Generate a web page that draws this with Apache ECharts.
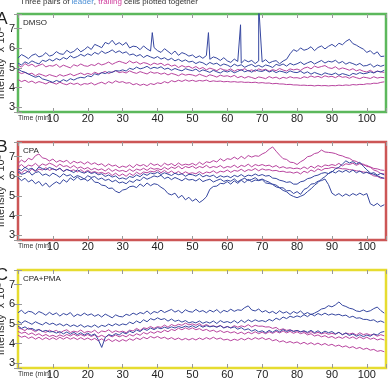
<!DOCTYPE html>
<html>
<head>
<meta charset="utf-8">
<script src="https://cdn.jsdelivr.net/npm/echarts@6/dist/echarts.min.js"></script>
<style>
  html, body { margin: 0; padding: 0; background: #fff; }
  #chart { width: 389px; height: 387px; }
</style>
</head>
<body>
<div id="chart"></div>
<script>
// sampling step of the traces (min)
var step = 1;
var xTicks = [10, 20, 30, 40, 50, 60, 70, 80, 90, 100];
var yTicks = [3, 4, 5, 6, 7];

// ---- A: DMSO ----
var dmsoLead1 = [5.5,5.68,5.59,5.47,5.64,5.71,5.56,5.62,5.78,5.6,
  5.66,5.83,5.72,5.69,5.9,5.77,5.84,6.0,5.82,5.93,
  6.08,5.94,6.2,6.12,6.03,6.3,6.22,6.41,6.18,6.29,
  6.16,6.3,6.02,6.11,6.08,5.93,6.12,5.97,5.86,6.04,
  5.88,5.79,5.98,5.84,5.7,5.86,5.64,5.78,5.71,5.6,
  5.66,5.52,5.61,5.49,5.63,5.44,5.56,5.5,5.38,5.52,
  5.36,5.28,5.45,5.33,5.24,5.41,5.31,5.38,5.22,5.36,
  5.3,5.42,5.25,5.33,5.37,5.21,5.35,5.44,5.72,5.93,
  5.84,6.02,5.9,5.96,6.08,5.88,6.04,6.12,5.97,6.1,
  6.2,6.08,6.26,6.18,6.35,6.46,6.24,6.16,6.05,5.96,
  5.79,5.88,5.7,5.82,5.58,5.6];
var dmsoSpikes = [[38.5, 6.8], [54.6, 6.8], [63.8, 7.2], [69.0, 8.2]];
var dmsoLead2 = [5.24,5.15,5.31,5.22,5.36,5.27,5.2,5.39,5.33,5.44,
  5.35,5.48,5.4,5.53,5.45,5.62,5.51,5.58,5.69,5.6,
  5.72,5.64,5.79,5.7,5.86,5.74,5.81,5.92,5.78,5.87,
  5.75,5.82,5.66,5.71,5.6,5.68,5.53,5.64,5.56,5.49,
  5.58,5.45,5.52,5.4,5.49,5.36,5.44,5.33,5.41,5.3,
  5.34,5.22,5.31,5.26,5.15,5.28,5.19,5.24,5.11,5.2,
  5.14,5.05,5.19,5.1,5.16,5.03,5.12,5.18,5.06,5.13,
  5.04,5.15,5.1,5.02,5.18,5.12,5.2,5.09,5.23,5.15,
  5.21,5.3,5.17,5.26,5.33,5.2,5.29,5.38,5.25,5.34,
  5.3,5.39,5.24,5.33,5.19,5.28,5.22,5.14,5.23,5.1,
  5.12,5.2,5.04,5.15,5.08,5.14];
var dmsoLead3 = [4.94,4.83,4.78,4.69,4.6,4.52,4.58,4.44,4.39,4.33,
  4.26,4.36,4.29,4.4,4.32,4.45,4.38,4.47,4.52,4.49,
  4.6,4.55,4.7,4.64,4.76,4.71,4.8,4.77,4.86,4.84,
  4.9,4.84,4.98,4.92,5.04,4.95,5.0,5.08,4.96,5.03,
  4.98,5.06,4.93,4.99,4.88,4.97,4.9,4.85,4.96,4.9,
  4.86,4.94,4.81,4.9,4.84,4.77,4.88,4.8,4.74,4.85,
  4.79,4.86,4.75,4.82,4.91,4.8,4.87,4.78,4.9,4.84,
  4.82,4.9,4.79,4.86,4.76,4.84,4.8,4.74,4.85,4.78,
  4.76,4.83,4.72,4.8,4.68,4.77,4.7,4.64,4.75,4.69,
  4.66,4.74,4.63,4.71,4.66,4.6,4.72,4.67,4.76,4.7,
  4.73,4.8,4.74,4.83,4.79,4.88];
var dmsoTrail1 = [5.14,5.04,5.22,5.11,5.19,5.06,5.13,5.2,5.05,5.12,
  5.09,5.18,5.03,5.14,5.07,5.0,5.16,5.09,5.2,5.11,
  5.08,5.17,5.12,5.24,5.15,5.21,5.3,5.18,5.27,5.34,
  5.28,5.22,5.36,5.25,5.31,5.19,5.27,5.23,5.14,5.25,
  5.18,5.24,5.12,5.2,5.09,5.15,5.02,5.12,5.04,5.08,
  4.98,5.07,4.95,5.02,4.9,4.99,4.93,4.86,4.97,4.9,
  4.87,4.95,4.83,4.92,4.88,4.96,4.84,4.9,4.82,4.95,
  4.88,4.93,4.83,4.91,4.86,4.97,4.89,4.84,4.95,4.9,
  4.94,4.87,4.99,5.04,4.95,5.09,5.02,5.07,5.12,5.01,
  4.97,5.06,4.93,5.0,4.95,4.88,4.96,4.85,4.91,4.83,
  4.79,4.88,4.76,4.84,4.8,4.77];
var dmsoTrail2 = [4.8,4.71,4.77,4.68,4.73,4.6,4.7,4.64,4.57,4.66,
  4.6,4.55,4.66,4.58,4.63,4.7,4.6,4.67,4.74,4.65,
  4.72,4.66,4.78,4.7,4.75,4.82,4.71,4.79,4.86,4.76,
  4.8,4.74,4.85,4.77,4.72,4.81,4.75,4.69,4.8,4.73,
  4.76,4.68,4.74,4.64,4.72,4.67,4.6,4.7,4.63,4.67,
  4.64,4.58,4.68,4.61,4.55,4.65,4.6,4.53,4.63,4.57,
  4.6,4.54,4.62,4.5,4.57,4.48,4.56,4.51,4.45,4.54,
  4.5,4.45,4.56,4.48,4.53,4.44,4.52,4.47,4.55,4.49,
  4.5,4.46,4.55,4.5,4.59,4.52,4.57,4.5,4.6,4.54,
  4.57,4.5,4.6,4.52,4.55,4.47,4.56,4.5,4.45,4.53,
  4.5,4.46,4.55,4.48,4.52,4.5];
var dmsoTrail3 = [4.41,4.3,4.37,4.26,4.33,4.22,4.3,4.25,4.18,4.28,
  4.24,4.17,4.27,4.19,4.14,4.23,4.16,4.22,4.12,4.2,
  4.17,4.24,4.13,4.21,4.27,4.18,4.3,4.22,4.34,4.26,
  4.3,4.22,4.25,4.14,4.2,4.11,4.17,4.1,4.2,4.15,
  4.24,4.2,4.3,4.23,4.35,4.29,4.37,4.31,4.39,4.32,
  4.37,4.31,4.36,4.33,4.38,4.3,4.34,4.31,4.33,4.29,
  4.31,4.28,4.3,4.27,4.29,4.26,4.27,4.25,4.27,4.23,
  4.25,4.22,4.23,4.19,4.21,4.18,4.18,4.15,4.16,4.13,
  4.13,4.11,4.12,4.1,4.11,4.08,4.11,4.09,4.1,4.08,
  4.1,4.09,4.12,4.1,4.13,4.11,4.15,4.13,4.16,4.15,
  4.19,4.18,4.22,4.21,4.26,4.29];

// ---- B: CPA ----
var cpaLead1 = [5.94,5.78,5.9,5.71,5.82,5.62,5.74,5.51,5.66,5.45,
  5.6,5.72,5.61,5.83,5.7,5.92,5.79,5.97,5.82,5.88,
  5.76,5.9,5.7,5.68,5.55,5.52,5.38,5.4,5.24,5.16,
  5.3,5.34,5.47,5.5,5.42,5.61,5.48,5.66,5.52,5.62,
  5.58,5.44,5.33,5.12,5.05,5.14,4.9,5.03,4.8,4.93,
  4.73,4.85,4.66,4.78,4.95,5.34,5.48,5.5,5.64,5.62,
  5.73,5.6,5.77,5.64,5.8,5.67,5.85,5.72,5.81,5.78,
  5.83,5.66,5.63,5.6,5.55,5.42,5.41,5.26,5.27,5.12,
  5.22,5.08,5.33,5.41,5.6,5.63,5.75,5.78,5.86,5.58,
  5.14,5.02,5.12,4.98,5.1,5.0,5.12,5.03,5.14,5.04,
  5.12,4.6,4.5,4.62,4.46,4.55];
var cpaLead2 = [6.22,6.1,6.15,6.28,6.06,6.19,6.24,6.05,6.12,6.01,
  6.16,6.07,5.95,6.13,6.02,6.08,5.93,6.04,5.97,5.86,
  6.03,5.94,5.99,5.84,5.91,5.79,5.85,5.72,5.8,5.66,
  5.71,5.62,5.77,5.69,5.83,5.78,5.96,5.85,5.93,6.02,
  5.97,6.05,5.88,5.96,5.83,5.94,5.86,5.77,5.9,5.81,
  5.84,5.76,5.88,5.73,5.8,5.85,5.71,5.79,5.86,5.74,
  5.8,5.75,5.87,5.72,5.83,5.9,5.78,5.84,5.93,5.8,
  5.86,5.77,5.7,5.58,5.46,5.41,5.28,5.21,5.06,4.97,
  4.91,4.98,5.06,5.22,5.36,5.54,5.68,5.86,5.98,6.14,
  6.22,6.38,6.46,6.62,6.79,6.68,6.75,6.63,6.72,6.51,
  6.33,6.17,6.1,6.03,5.95,5.9];
var cpaLead3 = [6.37,6.3,6.46,6.35,6.41,6.27,6.48,6.39,6.33,6.45,
  6.38,6.31,6.42,6.24,6.35,6.28,6.19,6.33,6.22,6.16,
  6.25,6.14,6.2,6.08,6.13,5.99,6.07,5.96,6.02,5.87,
  5.92,5.85,5.99,5.94,6.07,5.98,6.13,6.05,6.17,6.12,
  6.21,6.09,6.18,6.11,6.04,6.16,6.08,6.13,6.0,6.1,
  6.08,6.01,6.12,5.97,6.05,5.99,6.06,5.92,6.03,5.96,
  6.01,5.93,6.05,5.98,6.09,5.97,6.06,6.02,6.12,6.03,
  6.09,6.01,6.04,5.91,5.89,5.8,5.76,5.69,5.72,5.6,
  5.6,5.72,5.76,5.88,5.92,6.02,6.06,6.15,6.19,6.14,
  6.26,6.17,6.29,6.21,6.31,6.2,6.32,6.18,6.27,6.15,
  6.21,6.13,6.19,6.06,6.15,6.07];
var cpaTrail1 = [6.66,6.83,6.72,6.92,6.84,7.05,7.14,6.94,6.9,6.78,
  6.88,6.72,6.81,6.73,6.82,6.64,6.77,6.68,6.74,6.62,
  6.74,6.61,6.69,6.58,6.64,6.5,6.63,6.52,6.57,6.44,
  6.52,6.46,6.58,6.44,6.61,6.53,6.6,6.49,6.67,6.56,
  6.62,6.5,6.67,6.57,6.65,6.53,6.68,6.56,6.62,6.58,
  6.66,6.56,6.72,6.6,6.74,6.7,6.8,6.73,6.9,6.78,
  6.9,6.86,6.98,6.87,7.02,6.9,7.06,6.98,7.05,7.02,
  7.14,7.22,7.38,7.5,7.28,7.08,6.9,6.86,6.72,6.7,
  6.6,6.74,6.84,7.0,7.04,7.16,7.2,7.34,7.24,7.22,
  7.2,7.16,7.08,7.04,6.96,6.92,6.8,6.76,6.64,6.62,
  6.5,6.48,6.4,6.38,6.32,6.3];
var cpaTrail2 = [6.47,6.6,6.44,6.57,6.52,6.66,6.5,6.63,6.56,6.67,
  6.6,6.48,6.62,6.5,6.54,6.43,6.55,6.41,6.48,6.37,
  6.45,6.33,6.41,6.32,6.38,6.27,6.4,6.25,6.35,6.26,
  6.3,6.23,6.36,6.25,6.37,6.31,6.41,6.3,6.43,6.36,
  6.4,6.33,6.46,6.35,6.47,6.4,6.52,6.38,6.5,6.44,
  6.52,6.4,6.5,6.44,6.56,6.43,6.5,6.45,6.55,6.42,
  6.5,6.46,6.57,6.44,6.56,6.5,6.62,6.48,6.6,6.54,
  6.6,6.53,6.57,6.47,6.55,6.43,6.49,6.41,6.44,6.39,
  6.42,6.37,6.48,6.38,6.52,6.42,6.55,6.47,6.58,6.54,
  6.6,6.55,6.66,6.53,6.64,6.6,6.67,6.56,6.65,6.58,
  6.56,6.46,6.32,6.26,6.14,6.12];
var cpaTrail3 = [6.3,6.16,6.33,6.2,6.38,6.24,6.37,6.32,6.44,6.3,
  6.38,6.32,6.4,6.26,6.35,6.28,6.33,6.22,6.34,6.2,
  6.31,6.19,6.24,6.16,6.2,6.12,6.19,6.04,6.16,6.02,
  6.12,6.0,6.15,6.04,6.21,6.1,6.22,6.18,6.26,6.22,
  6.32,6.18,6.3,6.16,6.27,6.14,6.25,6.12,6.23,6.14,
  6.18,6.13,6.24,6.12,6.22,6.18,6.28,6.16,6.26,6.22,
  6.32,6.2,6.3,6.26,6.36,6.24,6.34,6.3,6.4,6.28,
  6.38,6.32,6.34,6.28,6.3,6.24,6.26,6.2,6.22,6.16,
  6.22,6.12,6.26,6.18,6.32,6.24,6.38,6.3,6.4,6.4,
  6.46,6.42,6.42,6.38,6.38,6.34,6.32,6.28,6.26,6.22,
  6.2,6.12,6.02,6.0,5.9,5.9];

// ---- C: CPA+PMA ----
var pmaLead1 = [5.57,5.7,5.52,5.64,5.61,5.48,5.63,5.55,5.44,5.59,
  5.47,5.56,5.4,5.53,5.46,5.58,5.37,5.49,5.42,5.55,
  5.44,5.51,5.39,5.48,5.35,5.5,5.41,5.31,5.46,5.38,
  5.36,5.49,5.43,5.55,5.47,5.58,5.52,5.66,5.5,5.63,
  5.57,5.7,5.58,5.66,5.74,5.6,5.69,5.55,5.72,5.63,
  5.6,5.74,5.62,5.68,5.57,5.7,5.61,5.73,5.56,5.69,
  5.62,5.75,5.64,5.72,5.69,5.83,5.92,5.71,5.66,5.76,
  5.6,5.68,5.56,5.64,5.52,5.67,5.55,5.62,5.49,5.63,
  5.54,5.66,5.49,5.58,5.47,5.55,5.64,5.76,5.8,5.93,
  5.87,5.97,6.12,5.95,5.89,5.8,5.76,5.66,5.63,5.71,
  5.62,5.67,5.78,5.86,5.68,5.55];
var pmaLead2 = [5.13,5.03,5.16,5.07,4.98,5.11,5.02,4.95,5.08,4.97,
  5.04,4.93,5.01,4.9,4.99,4.87,4.95,4.86,4.96,4.83,
  4.91,4.84,4.95,4.82,4.93,4.87,4.99,4.9,5.01,4.92,
  5.0,4.95,5.09,5.01,5.15,5.05,5.21,5.11,5.27,5.2,
  5.31,5.22,5.27,5.14,5.25,5.13,5.19,5.09,5.17,5.05,
  5.11,5.05,5.15,5.03,5.11,5.04,5.15,5.02,5.17,5.07,
  5.12,5.05,5.17,5.04,5.19,5.07,5.21,5.11,5.21,5.13,
  5.17,5.11,5.23,5.15,5.29,5.21,5.35,5.27,5.39,5.33,
  5.41,5.35,5.47,5.37,5.51,5.41,5.53,5.45,5.55,5.45,
  5.51,5.45,5.49,5.41,5.45,5.33,5.39,5.29,5.31,5.23,
  5.23,5.17,5.21,5.09,5.15,5.07];
var pmaLead3 = [4.89,4.77,4.85,4.73,4.77,4.67,4.71,4.61,4.67,4.59,
  4.61,4.53,4.61,4.49,4.59,4.47,4.57,4.45,4.55,4.43,
  4.53,4.41,4.49,4.2,3.8,4.3,4.46,4.39,4.51,4.43,
  4.57,4.49,4.63,4.55,4.69,4.61,4.75,4.67,4.79,4.71,
  4.81,4.75,4.83,4.77,4.85,4.79,4.87,4.81,4.89,4.83,
  4.91,4.81,4.93,4.83,4.91,4.85,4.89,4.83,4.91,4.79,
  4.87,4.79,4.85,4.73,4.81,4.69,4.75,4.63,4.71,4.59,
  4.65,4.55,4.67,4.57,4.69,4.59,4.71,4.61,4.69,4.61,
  4.67,4.59,4.65,4.57,4.67,4.55,4.65,4.53,4.63,4.55,
  4.61,4.49,4.57,4.45,4.53,4.41,4.49,4.37,4.45,4.35,
  4.43,4.37,4.49,4.43,4.57,4.61];
var pmaTrail1 = [4.8,4.74,4.66,4.79,4.7,4.6,4.72,4.62,4.57,4.68,
  4.6,4.67,4.53,4.64,4.7,4.56,4.63,4.58,4.69,4.55,
  4.62,4.57,4.68,4.52,4.64,4.6,4.7,4.56,4.65,4.58,
  4.63,4.55,4.68,4.64,4.77,4.66,4.8,4.76,4.87,4.77,
  4.86,4.82,4.94,4.83,4.97,4.89,4.98,4.93,5.04,4.95,
  5.0,4.93,5.02,4.88,4.97,4.87,4.9,4.85,4.92,4.81,
  4.86,4.8,4.91,4.83,4.9,4.85,4.96,4.84,4.93,4.88,
  4.89,4.84,4.85,4.77,4.82,4.69,4.75,4.67,4.7,4.63,
  4.66,4.6,4.63,4.52,4.61,4.51,4.57,4.49,4.55,4.47,
  4.52,4.47,4.57,4.45,4.54,4.48,4.53,4.43,4.55,4.45,
  4.5,4.43,4.47,4.37,4.45,4.39];
var pmaTrail2 = [4.62,4.52,4.58,4.46,4.54,4.42,4.5,4.38,4.46,4.36,
  4.42,4.34,4.44,4.36,4.46,4.38,4.48,4.38,4.46,4.38,
  4.46,4.36,4.44,4.34,4.42,4.32,4.42,4.34,4.44,4.34,
  4.42,4.34,4.46,4.38,4.5,4.42,4.56,4.48,4.6,4.52,
  4.62,4.56,4.68,4.6,4.72,4.66,4.78,4.7,4.8,4.72,
  4.8,4.7,4.76,4.66,4.72,4.62,4.68,4.58,4.66,4.56,
  4.62,4.54,4.6,4.5,4.58,4.48,4.58,4.5,4.6,4.5,
  4.58,4.5,4.6,4.52,4.62,4.54,4.64,4.54,4.62,4.52,
  4.6,4.5,4.56,4.44,4.5,4.38,4.44,4.34,4.4,4.3,
  4.36,4.26,4.34,4.26,4.36,4.26,4.34,4.24,4.34,4.24,
  4.32,4.22,4.28,4.18,4.24,4.18];
var pmaTrail3 = [4.42,4.32,4.38,4.26,4.34,4.22,4.32,4.2,4.3,4.2,
  4.3,4.2,4.32,4.22,4.32,4.22,4.3,4.2,4.3,4.2,
  4.28,4.18,4.26,4.14,4.24,4.12,4.22,4.1,4.2,4.1,
  4.2,4.12,4.24,4.16,4.28,4.2,4.32,4.24,4.36,4.28,
  4.36,4.26,4.32,4.22,4.3,4.2,4.28,4.18,4.26,4.18,
  4.26,4.18,4.28,4.2,4.3,4.22,4.32,4.22,4.28,4.18,
  4.22,4.14,4.22,4.16,4.26,4.18,4.28,4.2,4.3,4.22,
  4.3,4.2,4.26,4.14,4.2,4.08,4.14,4.04,4.1,4.02,
  4.08,3.98,4.06,3.96,4.04,3.94,4.02,3.92,4.0,3.9,
  3.96,3.86,3.92,3.82,3.88,3.78,3.84,3.74,3.8,3.7,
  3.76,3.66,3.7,3.6,3.64,3.58];

var panels = [
  {letter: 'A', name: 'DMSO', frame: '#5cb85c', top: 14,
   lead: [dmsoLead1, dmsoLead2, dmsoLead3], trail: [dmsoTrail1, dmsoTrail2, dmsoTrail3], spikes: dmsoSpikes},
  {letter: 'B', name: 'CPA', frame: '#cc5656', top: 142,
   lead: [cpaLead1, cpaLead2, cpaLead3], trail: [cpaTrail1, cpaTrail2, cpaTrail3]},
  {letter: 'C', name: 'CPA+PMA', frame: '#e6dc30', top: 270,
   lead: [pmaLead1, pmaLead2, pmaLead3], trail: [pmaTrail1, pmaTrail2, pmaTrail3]}
];

var leadColor = '#3647a0';
var trailColor = '#b8449f';
var font = 'Liberation Sans, Arial, Helvetica, sans-serif';
var gridH = 98;

function toPoints(values, spikes) {
  var pts = values.map(function (v, i) { return [i * step, v]; });
  if (spikes) {
    pts = pts.concat(spikes).sort(function (a, b) { return a[0] - b[0]; });
  }
  return pts;
}

var grids = [], xAxes = [], yAxes = [], series = [], graphics = [];

graphics.push({
  type: 'text', left: 20, top: -2,
  style: {
    text: 'Three pairs of {l|leader}, {t|trailing} cells plotted together',
    font: '8px ' + font, fill: '#333',
    rich: {l: {fill: '#4a8fd6', font: '8px ' + font}, t: {fill: '#d0409e', font: '8px ' + font}}
  }
});

panels.forEach(function (p, k) {
  grids.push({
    left: 18, right: 2, top: p.top, height: gridH, show: true,
    borderColor: p.frame, borderWidth: 2.5, backgroundColor: '#fff'
  });
  var xBase = {
    type: 'value', gridIndex: k, min: 0, max: 105.5, interval: 10,
    splitLine: {show: false}, axisLine: {show: false},
    axisTick: {inside: true, length: 4, lineStyle: {color: '#999'}}
  };
  xAxes.push(Object.assign({}, xBase, {
    position: 'bottom',
    axisLabel: {
      margin: 1, fontSize: 11, color: '#222', fontFamily: font,
      formatter: function (v) { return xTicks.indexOf(v) >= 0 ? String(v) : ''; }
    }
  }));
  xAxes.push(Object.assign({}, xBase, {position: 'top', axisLabel: {show: false}}));
  var yBase = {
    type: 'value', gridIndex: k, min: 2.75, max: 7.75, splitNumber: 5,
    splitLine: {show: false}, axisLine: {show: false},
    axisTick: {inside: true, length: 4, lineStyle: {color: '#999'}}
  };
  yAxes.push(Object.assign({}, yBase, {
    position: 'left',
    axisLabel: {
      margin: 3, fontSize: 11, color: '#222', fontFamily: font,
      formatter: function (v) { return yTicks.indexOf(v) >= 0 ? String(v) : ''; }
    }
  }));
  yAxes.push(Object.assign({}, yBase, {position: 'right', axisLabel: {show: false}}));

  p.trail.forEach(function (vals) {
    series.push({
      type: 'line', xAxisIndex: 2 * k, yAxisIndex: 2 * k, data: toPoints(vals),
      showSymbol: false, silent: true, lineStyle: {color: trailColor, width: 1}
    });
  });
  p.lead.forEach(function (vals, j) {
    series.push({
      type: 'line', xAxisIndex: 2 * k, yAxisIndex: 2 * k,
      data: toPoints(vals, j === 0 ? p.spikes : null),
      showSymbol: false, silent: true, lineStyle: {color: leadColor, width: 1}
    });
  });

  graphics.push({
    type: 'text', x: 2, y: p.top + 5,
    style: {text: p.letter, font: '17px ' + font, fill: '#222', align: 'center', verticalAlign: 'middle'}
  });
  graphics.push({
    type: 'text', x: 0.5, y: p.top + gridH / 2, rotation: Math.PI / 2,
    style: {text: 'Intensity  x 10\u2075', font: '11px ' + font, fill: '#333', align: 'center', verticalAlign: 'middle'}
  });
  graphics.push({
    type: 'text', x: 23, y: p.top + 9,
    style: {text: p.name, font: '8px ' + font, fill: '#222', verticalAlign: 'middle'}
  });
  graphics.push({
    type: 'text', x: 18, y: p.top + gridH + 6,
    style: {text: 'Time (min)', font: '7px ' + font, fill: '#333', verticalAlign: 'middle'}
  });
});

var chart = echarts.init(document.getElementById('chart'));
chart.setOption({
  animation: false,
  backgroundColor: '#fff',
  grid: grids,
  xAxis: xAxes,
  yAxis: yAxes,
  series: series,
  graphic: graphics
});
</script>
</body>
</html>
